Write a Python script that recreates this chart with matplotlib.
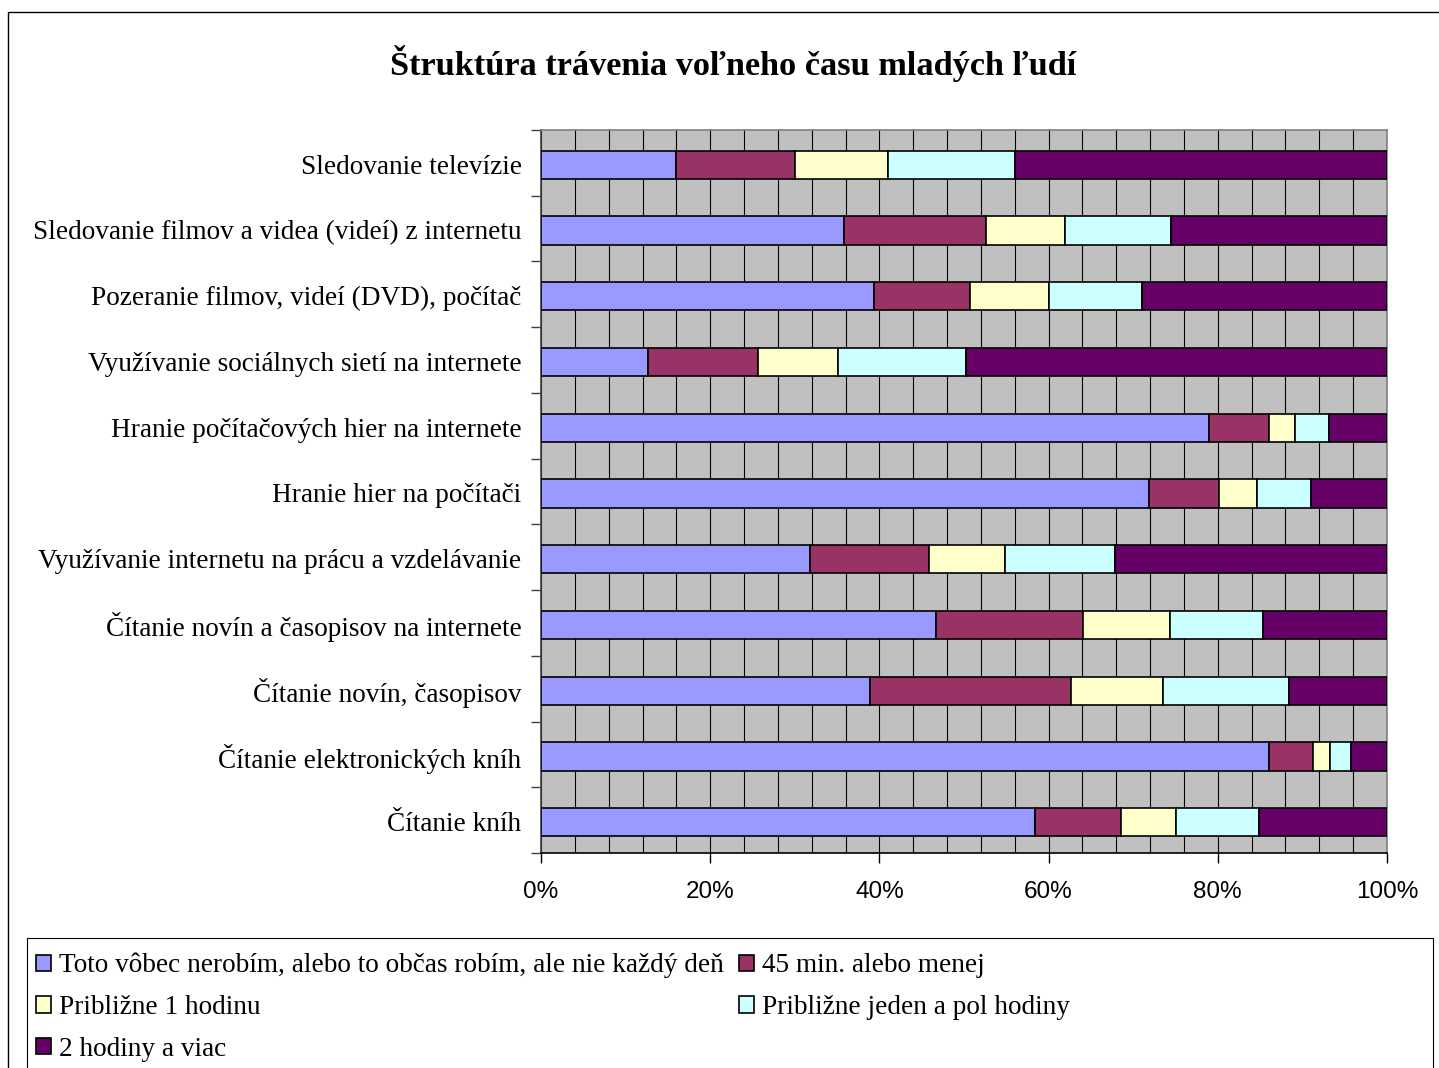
import numpy as np
import matplotlib.pyplot as plt
from matplotlib.patches import Rectangle

categories = [
    "Sledovanie televízie",
    "Sledovanie filmov a videa (videí) z internetu",
    "Pozeranie filmov, videí (DVD), počítač",
    "Využívanie sociálnych sietí na internete",
    "Hranie počítačových hier na internete",
    "Hranie hier na počítači",
    "Využívanie internetu na prácu a vzdelávanie",
    "Čítanie novín a časopisov na internete",
    "Čítanie novín, časopisov",
    "Čítanie elektronických kníh",
    "Čítanie kníh",
]

# percent shares, top to bottom
nerobim = [16.0, 35.8, 39.4, 12.7, 79.0, 71.9, 31.8, 46.7, 38.9, 86.0, 58.4]
do45min = [14.0, 16.8, 11.3, 13.0, 7.1, 8.2, 14.1, 17.4, 23.8, 5.2, 10.2]
hodina1 = [11.0, 9.3, 9.4, 9.4, 3.0, 4.5, 9.0, 10.2, 10.8, 2.1, 6.4]
hodina15 = [15.0, 12.6, 10.9, 15.1, 4.0, 6.4, 13.0, 11.0, 14.9, 2.4, 9.9]
viac2 = [44.0, 25.5, 29.0, 49.8, 6.9, 9.0, 32.1, 14.7, 11.6, 4.3, 15.1]

series_names = [
    "Toto vôbec nerobím, alebo to občas robím, ale nie každý deň",
    "45 min. alebo menej",
    "Približne 1 hodinu",
    "Približne jeden a pol hodiny",
    "2 hodiny a viac",
]
colors = ["#9999FF", "#993366", "#FFFFCC", "#CCFFFF", "#660066"]

xticks = [0, 20, 40, 60, 80, 100]
xticklabels = ["0%", "20%", "40%", "60%", "80%", "100%"]

W, H = 1439, 1068
fig = plt.figure(figsize=(W / 100, H / 100), dpi=100)

serif = "Liberation Serif"

# outer chart border (right and bottom cut off)
fig.add_artist(Rectangle((8 / W, -0.1), 1.2, 1 - 12 / H + 0.1, transform=fig.transFigure,
                         fill=False, edgecolor="black", lw=1.0))

ax = fig.add_axes([541 / W, 1 - 853 / H, 846 / W, 723 / H])
ax.set_facecolor("#C0C0C0")

data = [nerobim, do45min, hodina1, hodina15, viac2]
y = np.arange(len(categories))
left = np.zeros(len(categories))
bars = []
for vals, c, name in zip(data, colors, series_names):
    vals = np.array(vals)
    b = ax.barh(y + 0.03, vals, left=left, height=0.43, color=c, edgecolor="black",
                linewidth=1.2, label=name, zorder=3)
    bars.append(b)
    left = left + vals

ax.set_xlim(0, 100)
ax.set_ylim(len(categories) - 0.5, -0.5)

ax.set_xticks(xticks)
ax.set_xticklabels(xticklabels, fontfamily="Liberation Sans", fontsize=17.5)
ax.set_xticks(np.arange(0, 101, 4), minor=True)
ax.tick_params(axis="x", which="major", length=7, width=1, pad=13)
ax.tick_params(axis="x", which="minor", length=0)
ax.grid(axis="x", which="both", color="black", lw=0.8, zorder=1)
ax.set_axisbelow(True)

ax.set_yticks(np.arange(-0.5, len(categories), 1))
ax.set_yticklabels([])
ax.set_yticks(y + 0.02, minor=True)
ax.set_yticklabels(categories, minor=True, fontfamily=serif, fontsize=19.6)
ax.tick_params(axis="y", which="major", length=7, width=1, color="#404040")
ax.tick_params(axis="y", which="minor", length=0, pad=14)

ax.spines["top"].set_color("#808080")
ax.spines["right"].set_color("#808080")
ax.spines["left"].set_color("#404040")
for s in ax.spines.values():
    s.set_linewidth(1.2)

fig.text(733 / W, 1 - 63 / H, "Štruktúra trávenia voľneho času mladých ľudí",
         ha="center", va="center", fontfamily=serif, fontweight="bold", fontsize=24.7)

# legend box (bottom cut off)
fig.add_artist(Rectangle((27 / W, -0.1), (1433 - 27) / W, 0.1 + 1 - 938 / H,
                         transform=fig.transFigure, fill=False, edgecolor="black", lw=0.8))

order = [0, 2, 4, 1, 3]
leg = fig.legend([bars[i] for i in order], [series_names[i] for i in order],
                 loc="upper left", bbox_to_anchor=(36 / W, 1 - 953 / H), ncol=2,
                 frameon=False, prop={"family": serif, "size": 19.6},
                 handlelength=0.55, handleheight=0.55, handletextpad=0.3,
                 columnspacing=0.55, labelspacing=0.61, borderaxespad=0, borderpad=0)

fig.savefig("out.png", dpi=100)
